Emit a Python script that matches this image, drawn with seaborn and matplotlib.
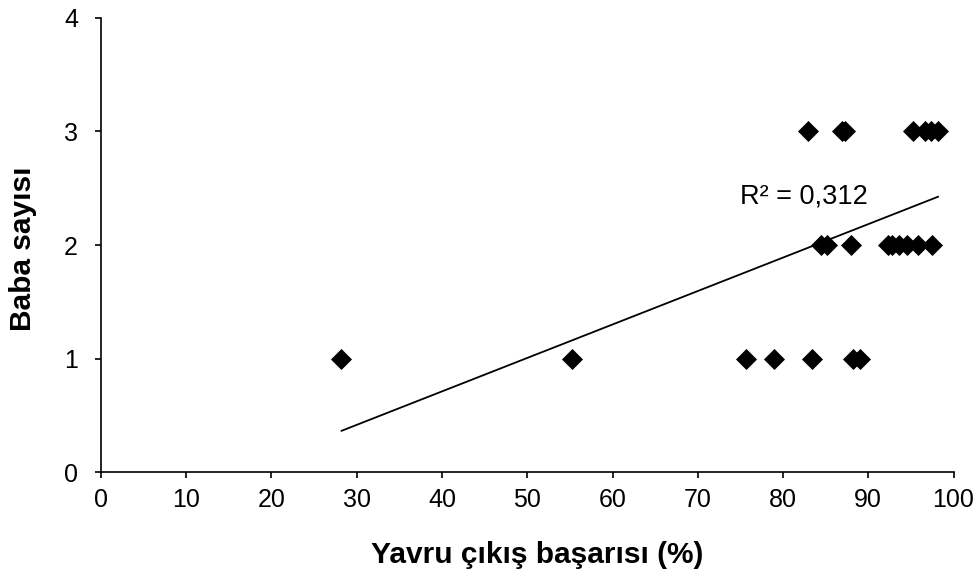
import numpy as np
import pandas as pd
import matplotlib
matplotlib.use("Agg")
import matplotlib.pyplot as plt
import seaborn as sns

# Data
x_baba1 = [28.2, 55.3, 75.6, 78.9, 83.4, 88.2, 89.0]
x_baba2 = [84.5, 85.1, 88.0, 92.3, 92.8, 93.6, 94.5, 95.8, 97.5]
x_baba3 = [82.9, 86.9, 87.3, 95.3, 96.6, 97.4, 98.2]
# linear trend line (as drawn in the reference), endpoints
trend_x = [28.2, 98.2]
trend_y = [0.364, 2.426]
xticks = [0, 10, 20, 30, 40, 50, 60, 70, 80, 90, 100]
yticks = [0, 1, 2, 3, 4]
r2_label = "R² = 0,312"
xlabel = "Yavru çıkış başarısı (%)"
ylabel = "Baba sayısı"

df = pd.DataFrame({
    "x": x_baba1 + x_baba2 + x_baba3,
    "y": [1] * len(x_baba1) + [2] * len(x_baba2) + [3] * len(x_baba3),
})
trend = pd.DataFrame({"x": trend_x, "y": trend_y})

sns.set_style("ticks")
plt.rcParams["font.family"] = ["Liberation Sans", "DejaVu Sans"]
plt.rcParams.update({
    "text.color": "black",
    "axes.labelcolor": "black",
    "xtick.color": "black",
    "ytick.color": "black",
    "axes.edgecolor": "black",
})

fig = plt.figure(figsize=(9.8, 5.78), dpi=100)
ax = fig.add_axes([0.103, 0.183, 0.870, 0.786])

sns.lineplot(data=trend, x="x", y="y", color="black", lw=1.3, ax=ax, zorder=2)
sns.scatterplot(data=df, x="x", y="y", marker="D", s=115, color="black",
                linewidth=0, ax=ax, zorder=3)

ax.text(74.9, 2.43, r2_label, fontsize=19.5, ha="left", va="center",
        color="black")

ax.set_xlim(0, 100)
ax.set_ylim(0, 4)
ax.set_xticks(xticks)
ax.set_yticks(yticks)
ax.tick_params(axis="both", labelsize=18, direction="out", length=4.5,
               width=1.2, color="black", labelcolor="black")
ax.tick_params(axis="x", pad=7)
ax.tick_params(axis="y", pad=12)
for s in ["top", "right"]:
    ax.spines[s].set_visible(False)
for s in ["left", "bottom"]:
    ax.spines[s].set_color("black")
    ax.spines[s].set_linewidth(1.2)

ax.set_xlabel(xlabel, fontsize=21.5, fontweight="bold", va="center",
              color="black")
ax.set_ylabel(ylabel, fontsize=21.5, fontweight="bold", va="center",
              color="black")
ax.xaxis.set_label_coords(0.512, -0.182)
ax.yaxis.set_label_coords(-0.0914, 0.492)

fig.savefig("out.png", dpi=100)
